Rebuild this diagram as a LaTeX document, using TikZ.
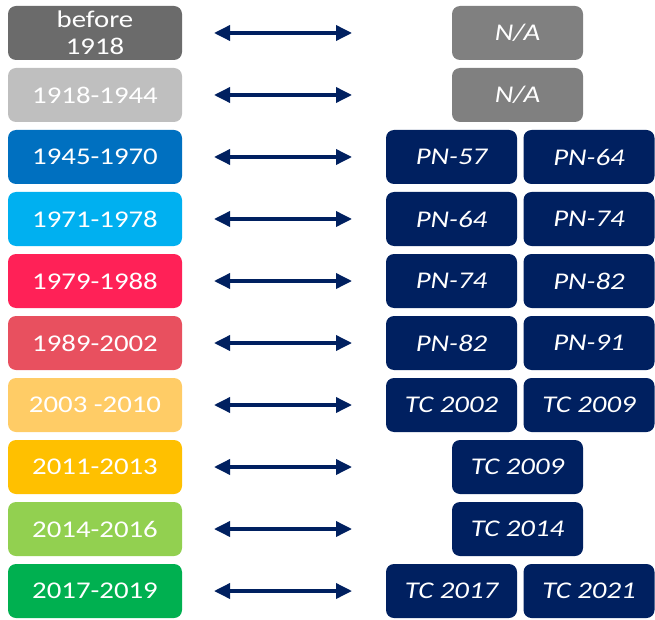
\documentclass[tikz,border=0pt]{standalone}
\usepackage{fontspec}
\setmainfont{Carlito}[FakeStretch=1.2]
\usetikzlibrary{arrows.meta}

\definecolor{navy}{HTML}{002060}
\definecolor{grayA}{HTML}{6B6B6B}
\definecolor{grayB}{HTML}{BFBFBF}
\definecolor{grayNA}{HTML}{808080}
\definecolor{blueA}{HTML}{0070C0}
\definecolor{blueB}{HTML}{00B0F0}
\definecolor{redA}{HTML}{FF2157}
\definecolor{redB}{HTML}{E8505F}
\definecolor{yellowA}{HTML}{FFCC66}
\definecolor{yellowB}{HTML}{FFC000}
\definecolor{greenA}{HTML}{92D050}
\definecolor{greenB}{HTML}{00B050}

\tikzset{
  period/.style={rounded corners=8pt, minimum width=174pt, minimum height=54pt,
    inner sep=0pt, text=white, align=center,
    font=\fontsize{24}{27}\selectfont},
  norm/.style={rounded corners=8pt, fill=navy, minimum width=131pt,
    minimum height=54pt, inner sep=0pt, text=white,
    font=\fontsize{24}{27}\selectfont\itshape},
  link/.style={navy, line width=3.5pt,
    {Triangle[length=16pt,width=15pt]}-{Triangle[length=16pt,width=15pt]}}
}

\begin{document}
\begin{tikzpicture}[x=1pt, y=-1pt]
    \useasboundingbox (0,0) rectangle (655,620);

    % Periods
    \node[period, fill=grayA]   (p1)  at (95,33)  {before\\1918};
    \node[period, fill=grayB]   (p2)  at (95,95)  {1918-1944};
    \node[period, fill=blueA]   (p3)  at (95,157) {1945-1970};
    \node[period, fill=blueB]   (p4)  at (95,219) {1971-1978};
    \node[period, fill=redA]    (p5)  at (95,281) {1979-1988};
    \node[period, fill=redB]    (p6)  at (95,343) {1989-2002};
    \node[period, fill=yellowA] (p7)  at (95,405) {2003 -2010};
    \node[period, fill=yellowB] (p8)  at (95,467) {2011-2013};
    \node[period, fill=greenA]  (p9)  at (95,529) {2014-2016};
    \node[period, fill=greenB]  (p10) at (95,591) {2017-2019};

    % Standards
    \node[norm, fill=grayNA] (s1)  at (517.5,33)  {N/A};
    \node[norm, fill=grayNA] (s2)  at (517.5,95)  {N/A};
    \node[norm] (s3a)  at (451.5,157) {PN-57};
    \node[norm] (s3b)  at (589,157)   {PN-64};
    \node[norm] (s4a)  at (451.5,219) {PN-64};
    \node[norm] (s4b)  at (589,219)   {PN-74};
    \node[norm] (s5a)  at (451.5,281) {PN-74};
    \node[norm] (s5b)  at (589,281)   {PN-82};
    \node[norm] (s6a)  at (451.5,343) {PN-82};
    \node[norm] (s6b)  at (589,343)   {PN-91};
    \node[norm] (s7a)  at (451.5,405) {TC 2002};
    \node[norm] (s7b)  at (589,405)   {TC 2009};
    \node[norm] (s8)   at (517.5,467) {TC 2009};
    \node[norm] (s9)   at (517.5,529) {TC 2014};
    \node[norm] (s10a) at (451.5,591) {TC 2017};
    \node[norm] (s10b) at (589,591)   {TC 2021};

    % Arrows
    \foreach \i in {1,...,10} {
        \coordinate (a\i) at (214,{33+62*(\i-1)});
        \coordinate (b\i) at (352,{33+62*(\i-1)});
        \draw[link] (a\i) -- (b\i);
    }

\end{tikzpicture}
\end{document}
